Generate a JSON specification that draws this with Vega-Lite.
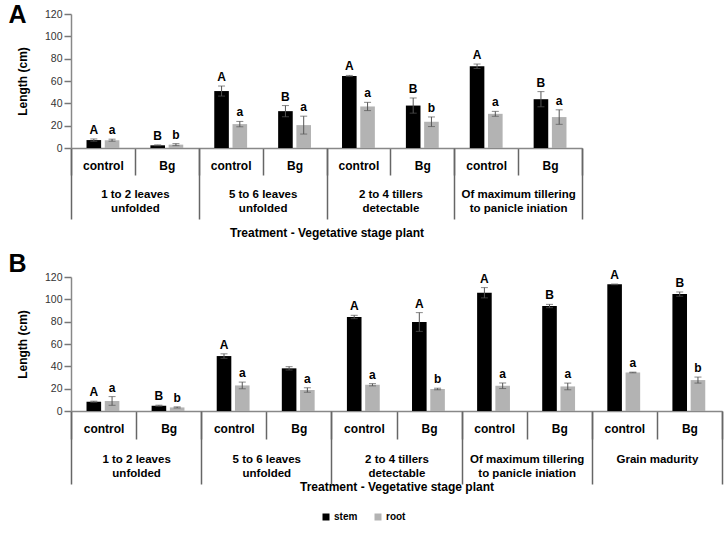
{
  "$schema": "https://vega.github.io/schema/vega-lite/v6.json",
  "padding": {"left": 8, "top": 3, "right": 5, "bottom": 5},
  "spacing": 13,
  "config": {
    "font": "Liberation Sans",
    "view": {"stroke": null},
    "axis": {"grid": false},
    "axisY": {"tickCount": 7, "labelOverlap": false, "tickSize": 7, "tickColor": "#777", "tickWidth": 1.5, "domainColor": "#888", "domainWidth": 1.5, "labelFontSize": 10.5, "labelColor": "#333", "labelPadding": 2, "titleFontSize": 12, "titleFontWeight": "bold", "titleColor": "#000", "titlePadding": 15},
    "legend": {"title": null, "symbolType": "square", "symbolSize": 49, "labelFontSize": 10, "labelFontWeight": "bold", "labelColor": "#000", "columnPadding": 15, "labelOffset": 3, "symbolStrokeWidth": 0}
  },
  "datasets": {
    "panelA": [
      {"cat": "1 control", "part": "stem", "value": 7.1, "lo": 6.1, "hi": 8.1, "letter": "A"},
      {"cat": "1 control", "part": "root", "value": 7.0, "lo": 6.1, "hi": 7.9, "letter": "a"},
      {"cat": "1 Bg", "part": "stem", "value": 2.4, "lo": 2.0, "hi": 2.8, "letter": "B"},
      {"cat": "1 Bg", "part": "root", "value": 3.0, "lo": 2.1, "hi": 3.9, "letter": "b"},
      {"cat": "2 control", "part": "stem", "value": 51.0, "lo": 46.5, "hi": 55.5, "letter": "A"},
      {"cat": "2 control", "part": "root", "value": 21.4, "lo": 19.0, "hi": 23.8, "letter": "a"},
      {"cat": "2 Bg", "part": "stem", "value": 33.0, "lo": 28.0, "hi": 38.0, "letter": "B"},
      {"cat": "2 Bg", "part": "root", "value": 20.5, "lo": 12.5, "hi": 28.5, "letter": "a"},
      {"cat": "3 control", "part": "stem", "value": 64.5, "lo": 64.0, "hi": 65.0, "letter": "A"},
      {"cat": "3 control", "part": "root", "value": 37.2, "lo": 33.5, "hi": 40.9, "letter": "a"},
      {"cat": "3 Bg", "part": "stem", "value": 38.0, "lo": 31.2, "hi": 44.8, "letter": "B"},
      {"cat": "3 Bg", "part": "root", "value": 23.5, "lo": 19.2, "hi": 27.8, "letter": "b"},
      {"cat": "4 control", "part": "stem", "value": 73.2, "lo": 71.2, "hi": 75.2, "letter": "A"},
      {"cat": "4 control", "part": "root", "value": 30.6, "lo": 28.4, "hi": 32.8, "letter": "a"},
      {"cat": "4 Bg", "part": "stem", "value": 43.7, "lo": 36.9, "hi": 50.5, "letter": "B"},
      {"cat": "4 Bg", "part": "root", "value": 27.7, "lo": 21.2, "hi": 34.2, "letter": "a"}
    ],
    "panelB": [
      {"cat": "1 control", "part": "stem", "value": 8.3, "lo": 7.8, "hi": 8.8, "letter": "A"},
      {"cat": "1 control", "part": "root", "value": 9.0, "lo": 5.1, "hi": 12.9, "letter": "a"},
      {"cat": "1 Bg", "part": "stem", "value": 4.7, "lo": 4.2, "hi": 5.2, "letter": "B"},
      {"cat": "1 Bg", "part": "root", "value": 3.2, "lo": 2.7, "hi": 3.7, "letter": "b"},
      {"cat": "2 control", "part": "stem", "value": 49.2, "lo": 47.2, "hi": 51.2, "letter": "A"},
      {"cat": "2 control", "part": "root", "value": 22.9, "lo": 19.9, "hi": 25.9, "letter": "a"},
      {"cat": "2 Bg", "part": "stem", "value": 38.2, "lo": 36.7, "hi": 39.7, "letter": ""},
      {"cat": "2 Bg", "part": "root", "value": 18.8, "lo": 16.8, "hi": 20.8, "letter": "a"},
      {"cat": "3 control", "part": "stem", "value": 84.2, "lo": 82.7, "hi": 85.7, "letter": "A"},
      {"cat": "3 control", "part": "root", "value": 23.5, "lo": 22.5, "hi": 24.5, "letter": "a"},
      {"cat": "3 Bg", "part": "stem", "value": 79.7, "lo": 71.3, "hi": 88.1, "letter": "A"},
      {"cat": "3 Bg", "part": "root", "value": 19.7, "lo": 19.0, "hi": 20.4, "letter": "b"},
      {"cat": "4 control", "part": "stem", "value": 105.9, "lo": 101.3, "hi": 110.5, "letter": "A"},
      {"cat": "4 control", "part": "root", "value": 22.6, "lo": 20.1, "hi": 25.1, "letter": "a"},
      {"cat": "4 Bg", "part": "stem", "value": 94.0, "lo": 92.5, "hi": 95.5, "letter": "B"},
      {"cat": "4 Bg", "part": "root", "value": 22.0, "lo": 19.0, "hi": 25.0, "letter": "a"},
      {"cat": "5 control", "part": "stem", "value": 113.4, "lo": 113.1, "hi": 113.7, "letter": "A"},
      {"cat": "5 control", "part": "root", "value": 34.5, "lo": 34.2, "hi": 34.8, "letter": "a"},
      {"cat": "5 Bg", "part": "stem", "value": 104.7, "lo": 102.8, "hi": 106.6, "letter": "B"},
      {"cat": "5 Bg", "part": "root", "value": 27.7, "lo": 25.0, "hi": 30.4, "letter": "b"}
    ],
    "stagesA": [
      {"stage": "1 to 2 leaves|unfolded"},
      {"stage": "5 to 6 leaves|unfolded"},
      {"stage": "2 to 4 tillers|detectable"},
      {"stage": "Of maximum tillering|to panicle iniation"}
    ],
    "stagesB": [
      {"stage": "1 to 2 leaves|unfolded"},
      {"stage": "5 to 6 leaves|unfolded"},
      {"stage": "2 to 4 tillers|detectable"},
      {"stage": "Of maximum tillering|to panicle iniation"},
      {"stage": "Grain madurity"}
    ]
  },
  "vconcat": [
    {
      "title": {"text": "A", "anchor": "start", "frame": "bounds", "fontSize": 25, "fontWeight": "bold", "color": "#000", "baseline": "alphabetic", "dx": -8, "dy": 39, "offset": 0},
      "width": 511,
      "height": 134,
      "resolve": {"scale": {"x": "independent"}, "axis": {"x": "independent"}},
      "layer": [
        {
          "data": {"name": "panelA"},
          "encoding": {
            "x": {"field": "cat", "type": "nominal", "sort": ["1 control", "1 Bg", "2 control", "2 Bg", "3 control", "3 Bg", "4 control", "4 Bg"],
              "scale": {"type": "band", "paddingInner": 0, "paddingOuter": 0},
              "axis": {"title": null, "orient": "bottom", "labelExpr": "slice(datum.label, 2)", "labelAngle": 0, "tickBand": "extent", "tickSize": 27, "tickColor": "#666", "tickWidth": 1.5, "domainColor": "#888", "domainWidth": 1.5, "labelPadding": -10, "labelBaseline": "middle", "labelFontWeight": "bold", "labelFontSize": 12, "labelColor": "#000", "labelOverlap": false}},
            "xOffset": {"field": "part", "type": "nominal", "sort": ["stem", "root"], "scale": {"paddingInner": 0.2, "paddingOuter": 0.85}}
          },
          "layer": [
            {"mark": {"type": "bar"},
              "encoding": {
                "y": {"field": "value", "type": "quantitative", "title": "Length (cm)", "scale": {"domain": [0, 120]}},
                "color": {"field": "part", "type": "nominal", "sort": ["stem", "root"], "scale": {"domain": ["stem", "root"], "range": ["#000000", "#b3b3b3"]},
                  "legend": {"orient": "none", "direction": "horizontal", "legendX": 250, "legendY": 498}}
              }},
            {"mark": {"type": "rule", "color": "#555", "strokeWidth": 1},
              "encoding": {"y": {"field": "lo", "type": "quantitative", "title": "Length (cm)"}, "y2": {"field": "hi"}}},
            {"mark": {"type": "tick", "color": "#555", "size": 7, "thickness": 1},
              "encoding": {"y": {"field": "lo", "type": "quantitative", "title": "Length (cm)"}}},
            {"mark": {"type": "tick", "color": "#555", "size": 7, "thickness": 1},
              "encoding": {"y": {"field": "hi", "type": "quantitative", "title": "Length (cm)"}}},
            {"mark": {"type": "text", "fontSize": 12, "fontWeight": "bold", "color": "#000", "baseline": "alphabetic", "dy": -5},
              "encoding": {"y": {"field": "hi", "type": "quantitative", "title": "Length (cm)"}, "text": {"field": "letter"}}}
          ]
        },
        {
          "data": {"name": "stagesA"},
          "mark": {"type": "point", "opacity": 0},
          "encoding": {
            "x": {"field": "stage", "type": "nominal", "sort": null,
              "scale": {"type": "band", "paddingInner": 0, "paddingOuter": 0},
              "axis": {"title": "Treatment - Vegetative stage plant", "orient": "bottom", "domain": false, "labelExpr": "split(datum.label, '|')", "labelAngle": 0, "tickBand": "extent", "tickSize": 71, "tickColor": "#666", "tickWidth": 1.5, "labelPadding": -31, "labelBaseline": "top", "labelLineHeight": 14, "labelFontWeight": "bold", "labelFontSize": 11.5, "labelColor": "#000", "labelOverlap": false, "labelLimit": 300, "titleFontSize": 12, "titleFontWeight": "bold", "titleColor": "#000", "titlePadding": 8}}
          }
        }
      ]
    },
    {
      "title": {"text": "B", "anchor": "start", "frame": "bounds", "fontSize": 25, "fontWeight": "bold", "color": "#000", "baseline": "alphabetic", "dx": -8, "dy": 28, "offset": 0},
      "width": 651,
      "height": 134,
      "resolve": {"scale": {"x": "independent"}, "axis": {"x": "independent"}},
      "layer": [
        {
          "data": {"name": "panelB"},
          "encoding": {
            "x": {"field": "cat", "type": "nominal", "sort": ["1 control", "1 Bg", "2 control", "2 Bg", "3 control", "3 Bg", "4 control", "4 Bg", "5 control", "5 Bg"],
              "scale": {"type": "band", "paddingInner": 0, "paddingOuter": 0},
              "axis": {"title": null, "orient": "bottom", "labelExpr": "slice(datum.label, 2)", "labelAngle": 0, "tickBand": "extent", "tickSize": 28, "tickColor": "#666", "tickWidth": 1.5, "domainColor": "#888", "domainWidth": 1.5, "labelPadding": -11, "labelBaseline": "middle", "labelFontWeight": "bold", "labelFontSize": 12, "labelColor": "#000", "labelOverlap": false}},
            "xOffset": {"field": "part", "type": "nominal", "sort": ["stem", "root"], "scale": {"paddingInner": 0.2, "paddingOuter": 0.85}}
          },
          "layer": [
            {"mark": {"type": "bar"},
              "encoding": {
                "y": {"field": "value", "type": "quantitative", "title": "Length (cm)", "scale": {"domain": [0, 120]}},
                "color": {"field": "part", "type": "nominal", "sort": ["stem", "root"], "scale": {"domain": ["stem", "root"], "range": ["#000000", "#b3b3b3"]},
                  "legend": {"orient": "none", "direction": "horizontal", "legendX": 250, "legendY": 498}}
              }},
            {"mark": {"type": "rule", "color": "#555", "strokeWidth": 1},
              "encoding": {"y": {"field": "lo", "type": "quantitative", "title": "Length (cm)"}, "y2": {"field": "hi"}}},
            {"mark": {"type": "tick", "color": "#555", "size": 7, "thickness": 1},
              "encoding": {"y": {"field": "lo", "type": "quantitative", "title": "Length (cm)"}}},
            {"mark": {"type": "tick", "color": "#555", "size": 7, "thickness": 1},
              "encoding": {"y": {"field": "hi", "type": "quantitative", "title": "Length (cm)"}}},
            {"mark": {"type": "text", "fontSize": 12, "fontWeight": "bold", "color": "#000", "baseline": "alphabetic", "dy": -5},
              "encoding": {"y": {"field": "hi", "type": "quantitative", "title": "Length (cm)"}, "text": {"field": "letter"}}}
          ]
        },
        {
          "data": {"name": "stagesB"},
          "mark": {"type": "point", "opacity": 0},
          "encoding": {
            "x": {"field": "stage", "type": "nominal", "sort": null,
              "scale": {"type": "band", "paddingInner": 0, "paddingOuter": 0},
              "axis": {"title": "Treatment - Vegetative stage plant", "orient": "bottom", "domain": false, "labelExpr": "split(datum.label, '|')", "labelAngle": 0, "tickBand": "extent", "tickSize": 73, "tickColor": "#666", "tickWidth": 1.5, "labelPadding": -31, "labelBaseline": "top", "labelLineHeight": 14, "labelFontWeight": "bold", "labelFontSize": 11.5, "labelColor": "#000", "labelOverlap": false, "labelLimit": 300, "titleFontSize": 12, "titleFontWeight": "bold", "titleColor": "#000", "titlePadding": -3}}
          }
        }
      ]
    }
  ]
}
